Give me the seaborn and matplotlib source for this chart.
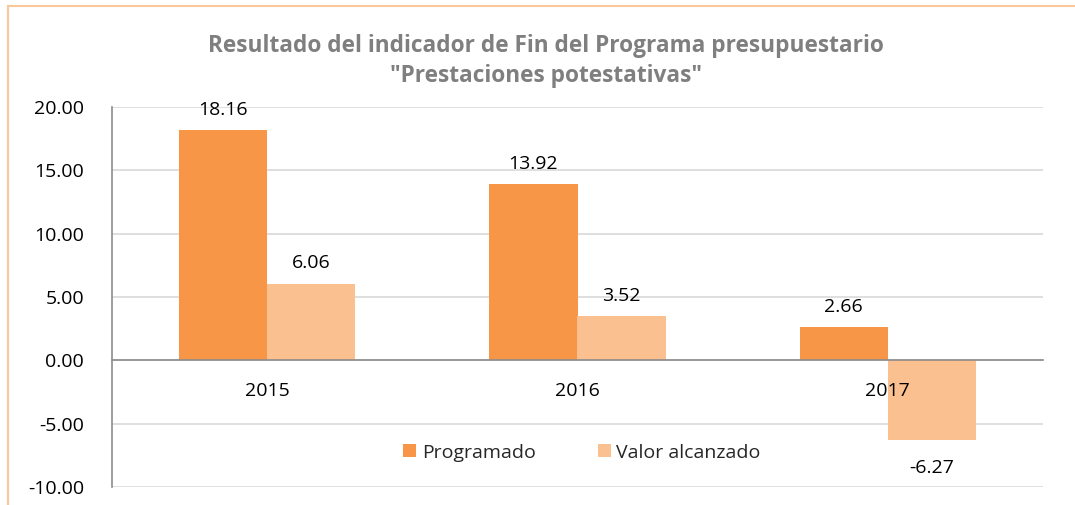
import numpy as np
import pandas as pd
import matplotlib
matplotlib.use("Agg")
import matplotlib.pyplot as plt
import seaborn as sns
from matplotlib.patches import Rectangle

# Datos
anios = ["2015", "2016", "2017"]
programado = [18.16, 13.92, 2.66]
alcanzado = [6.06, 3.52, -6.27]
series = ["Programado", "Valor alcanzado"]
colores = ["#F79646", "#FAC090"]

df = pd.DataFrame({
    "Año": anios * 2,
    "Valor": programado + alcanzado,
    "Serie": [series[0]] * 3 + [series[1]] * 3,
})

sns.set_theme(style="white")
plt.rcParams["font.family"] = ["Open Sans", "DejaVu Sans"]

fig = plt.figure(figsize=(10.75, 5.05), dpi=100)
ax = fig.add_axes([112 / 1075, 1 - 487 / 505, (1043 - 112) / 1075, (487 - 107) / 505])

sns.barplot(data=df, x="Año", y="Valor", hue="Serie", palette=colores,
            saturation=1, width=0.568, linewidth=0, ax=ax, legend=True)

ax.set_ylim(-10, 20)
ax.set_yticks(np.arange(-10, 20.1, 5))
ax.set_yticklabels([f"{v:.2f}" for v in np.arange(-10, 20.1, 5)], fontsize=14)
ax.set_xlim(-0.5, 2.5)
ax.set_xlabel("")
ax.set_ylabel("")
ax.tick_params(axis="both", length=0, colors="#000000")
ax.tick_params(axis="y", pad=20)
ax.set_xticklabels([])

# Etiquetas de categoría sobre la línea del cero (por encima de las barras)
for i, a in enumerate(anios):
    ax.annotate(a, (i, 0), xytext=(0, -22), textcoords="offset points",
                ha="center", va="center", fontsize=14, color="#000000", zorder=5)

# Rejilla y ejes
ax.yaxis.grid(True, color="#D9D9D9", linewidth=1.2)
ax.set_axisbelow(True)
for s in ["top", "right"]:
    ax.spines[s].set_visible(False)
ax.spines["left"].set_color("#8C8C8C")
ax.spines["left"].set_linewidth(1.2)
ax.spines["bottom"].set_position(("data", 0))
ax.spines["bottom"].set_color("#8C8C8C")
ax.spines["bottom"].set_linewidth(1.2)

# Etiquetas de datos
for cont in ax.containers:
    for barra, v in zip(cont, cont.datavalues):
        x = barra.get_x() + barra.get_width() / 2
        off = 8 if v >= 0 else -14
        ax.annotate(f"{v:.2f}", (x, v), xytext=(0, off), textcoords="offset points",
                    ha="center", va="bottom" if v >= 0 else "top",
                    fontsize=14, color="#000000")

# Leyenda
ax.legend(loc="center", bbox_to_anchor=(0.505, 0.09), ncol=2, frameon=False,
          fontsize=14, handlelength=0.65, handleheight=0.65, handletextpad=0.3,
          columnspacing=3.2)

# Título
fig.text(0.508, 1 - 61 / 505, "Resultado del indicador de Fin del Programa presupuestario\n\"Prestaciones potestativas\"",
         ha="center", va="center", fontsize=16.3, fontweight="bold", color="#7F7F7F",
         linespacing=1.3)

# Borde
fig.patches.append(Rectangle((8 / 1075, -0.05), 1.1, 1 - 6 / 505 + 0.05,
                             transform=fig.transFigure, fill=False,
                             edgecolor="#F9C79A", linewidth=1.5))

fig.savefig("out.png", dpi=100)
